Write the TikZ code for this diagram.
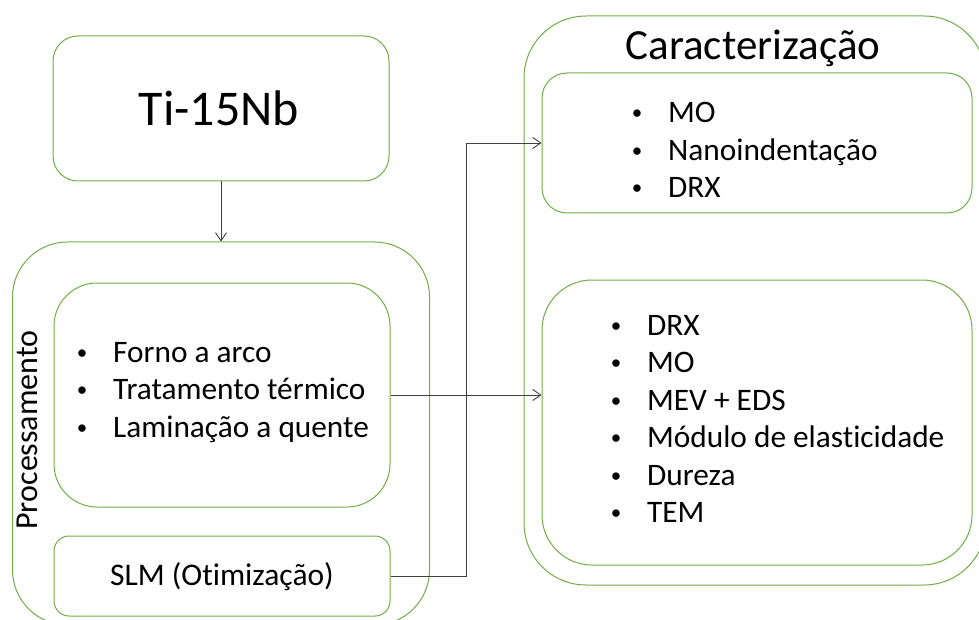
\documentclass[tikz,border=0pt]{standalone}
\usepackage{fontspec}
\setmainfont{Carlito}[Ligatures=NoCommon]
\usetikzlibrary{arrows.meta,positioning}
\def\bul{\makebox[0pt]{\raisebox{3pt}{\fontsize{21}{21}\selectfont •}}\hspace{31pt}}
\definecolor{office green}{RGB}{112,173,71}
\colorlet{box edge}{office green}
\colorlet{arrow line}{black!75}
\tikzset{box/.style={draw=box edge, line width=1pt, inner sep=0pt},
	link/.style={draw=arrow line, line width=0.9pt, -{Straight Barb[length=8pt,width=11pt]}},
	item/.style={anchor=base west, inner sep=0pt, font=\fontsize{31.3}{37.5}\selectfont}}

\begin{document}
\begin{tikzpicture}[x=1pt, y=-1pt]
 \clip (0,0) rectangle (979,620);

 % left column
 \node[box, rounded corners=25pt, minimum width=336pt, minimum height=145pt] (ti) at (221,108.5) {};
 \node[anchor=base, inner sep=0pt, font=\fontsize{50}{60}\selectfont] (tiname) at (219,126) {Ti-15Nb};
 \node[box, rounded corners=55pt, minimum width=417pt, minimum height=383pt] (proc) at (221,433.5) {};
 \node[anchor=base, rotate=90, inner sep=0pt, font=\fontsize{32}{38}\selectfont] (procname) at (37,430) {Processamento};
 \node[box, rounded corners=43pt, minimum width=336pt, minimum height=224pt] (list) at (222,395) {};
 \foreach \txt [count=\i] in {Forno a arco, Tratamento térmico, Laminação a quente}
   \node[item] (proc\i) at (82,324.5+37.5*\i) {\bul\txt};
 \node[box, rounded corners=15pt, minimum width=336pt, minimum height=80pt] (slm) at (222,576) {};
 \node[anchor=base, inner sep=0pt, font=\fontsize{31.5}{38}\selectfont] (slmname) at (222,585) {SLM (Otimização)};

 % right column
 \node[box, rounded corners=62pt, minimum width=462pt, minimum height=569pt] (car) at (755,300.5) {};
 \node[anchor=base, inner sep=0pt, font=\fontsize{43}{52}\selectfont] (carname) at (753,60) {Caracterização};
 \node[box, rounded corners=25pt, minimum width=430pt, minimum height=140pt] (carA) at (757,143) {};
 \foreach \txt [count=\i] in {MO, Nanoindentação, DRX}
   \node[item] (carA\i) at (637,85.5+37.5*\i) {\bul\txt};
 \node[box, rounded corners=50pt, minimum width=430pt, minimum height=285pt] (carB) at (757,422.5) {};
 \foreach \txt [count=\i] in {DRX, MO, MEV + EDS, Módulo de elasticidade, Dureza, TEM}
   \node[item] (carB\i) at (616,297.5+37.5*\i) {\bul\txt};

 \draw[link] (ti) -- (proc);
 \draw[link] (list.east) -- (list.east -| carB.west);
 \draw[link] (slm.east) -- ++(76,0) |- (carA.west);
\end{tikzpicture}
\end{document}
